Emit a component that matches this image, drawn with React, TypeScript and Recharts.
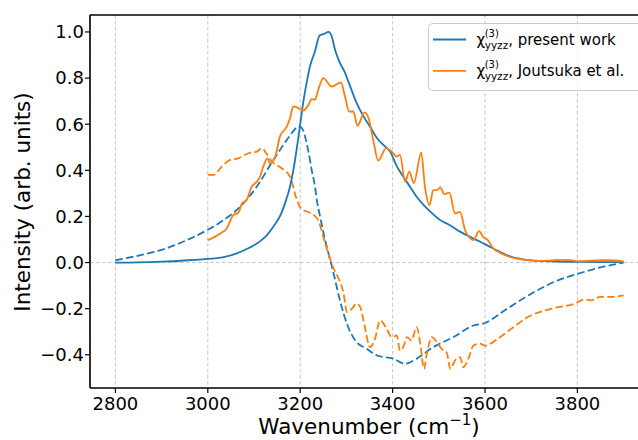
import React from 'react';
import { LineChart, Line, XAxis, YAxis, CartesianGrid, ReferenceLine, Legend } from 'recharts';

const xTicks = [2800, 3000, 3200, 3400, 3600, 3800];
const yTicks = [-0.4, -0.2, 0, 0.2, 0.4, 0.6, 0.8, 1.0];
const xDomain = [2745, 3955];
const yDomain = [-0.544, 1.0735];

const BLUE = '#1f77b4';
const ORANGE = '#ff7f0e';
const FONT = 'DejaVu Sans, sans-serif';

// present work, solid (imaginary part)
const presentSolid: [number, number][] = [
  [2800, 0.0], [2850, 0.001], [2900, 0.004], [2950, 0.009], [3000, 0.016], [3034, 0.024],
  [3060, 0.038], [3092, 0.066], [3115, 0.095], [3128, 0.119], [3145, 0.165], [3156, 0.2],
  [3168, 0.262], [3178, 0.33], [3186, 0.41], [3193, 0.5], [3200, 0.6], [3207, 0.7],
  [3214, 0.78], [3221, 0.85], [3232, 0.916], [3242, 0.985], [3252, 0.992], [3261, 1.0],
  [3268, 0.982], [3276, 0.918], [3286, 0.866], [3297, 0.823], [3308, 0.765], [3322, 0.692],
  [3337, 0.634], [3351, 0.59], [3366, 0.54], [3380, 0.51], [3395, 0.48], [3409, 0.418],
  [3423, 0.373], [3438, 0.328], [3452, 0.285], [3467, 0.25], [3481, 0.222], [3503, 0.184],
  [3524, 0.162], [3546, 0.134], [3568, 0.111], [3590, 0.09], [3611, 0.068], [3633, 0.046],
  [3654, 0.027], [3683, 0.014], [3719, 0.007], [3760, 0.004], [3800, 0.003], [3850, 0.002],
  [3900, 0.002],
];

// present work, dashed (real part)
const presentDashed: [number, number][] = [
  [2800, 0.01], [2850, 0.03], [2900, 0.055], [2962, 0.104], [2998, 0.14], [3034, 0.184],
  [3070, 0.242], [3106, 0.329], [3142, 0.445], [3171, 0.532], [3185, 0.57], [3196, 0.59],
  [3203, 0.585], [3210, 0.55], [3218, 0.48], [3225, 0.4], [3232, 0.33], [3236, 0.271],
  [3243, 0.2], [3254, 0.097], [3265, 0.01], [3272, -0.045], [3286, -0.164], [3301, -0.265],
  [3312, -0.315], [3322, -0.345], [3344, -0.374], [3366, -0.403], [3402, -0.417], [3427, -0.439],
  [3452, -0.417], [3488, -0.367], [3532, -0.323], [3575, -0.273], [3600, -0.262], [3643, -0.207],
  [3700, -0.135], [3758, -0.077], [3802, -0.048], [3852, -0.02], [3900, 0.0],
];

// Joutsuka et al., solid
const joutSolid: [number, number][] = [
  [3000, 0.097], [3027, 0.126], [3041, 0.148], [3055, 0.206], [3066, 0.216], [3074, 0.256],
  [3084, 0.271], [3095, 0.329], [3106, 0.35], [3113, 0.372], [3120, 0.416], [3129, 0.452],
  [3135, 0.43], [3146, 0.459], [3156, 0.546], [3171, 0.59], [3178, 0.626], [3185, 0.677],
  [3196, 0.67], [3207, 0.659], [3218, 0.684], [3225, 0.709], [3232, 0.706], [3239, 0.749],
  [3250, 0.8], [3268, 0.763], [3288, 0.781], [3297, 0.72], [3306, 0.655], [3315, 0.655],
  [3324, 0.593], [3339, 0.651], [3348, 0.626], [3358, 0.532], [3369, 0.442], [3386, 0.496],
  [3398, 0.481], [3409, 0.459], [3416, 0.467], [3427, 0.351], [3436, 0.394], [3446, 0.345],
  [3462, 0.477], [3470, 0.329], [3480, 0.249], [3488, 0.314], [3496, 0.314], [3503, 0.326],
  [3512, 0.297], [3523, 0.303], [3535, 0.213], [3546, 0.22], [3557, 0.14], [3575, 0.097],
  [3587, 0.136], [3597, 0.109], [3605, 0.1], [3618, 0.061], [3633, 0.042], [3654, 0.024],
  [3683, 0.013], [3719, 0.007], [3750, 0.01], [3775, 0.012], [3800, 0.006], [3830, 0.008],
  [3860, 0.01], [3880, 0.009], [3900, 0.005],
];

// Joutsuka et al., dashed
const joutDashed: [number, number][] = [
  [3000, 0.38], [3012, 0.38], [3030, 0.416], [3048, 0.445], [3066, 0.452], [3088, 0.474],
  [3106, 0.481], [3117, 0.496], [3124, 0.481], [3139, 0.437], [3160, 0.409], [3178, 0.372],
  [3193, 0.271], [3203, 0.232], [3221, 0.216], [3239, 0.184], [3250, 0.111], [3261, 0.039],
  [3270, -0.015], [3283, -0.07], [3294, -0.135], [3301, -0.215], [3312, -0.2], [3322, -0.178],
  [3330, -0.193], [3340, -0.28], [3351, -0.367], [3362, -0.33], [3373, -0.251], [3387, -0.287],
  [3398, -0.323], [3409, -0.316], [3416, -0.381], [3423, -0.367], [3431, -0.323], [3441, -0.338],
  [3452, -0.28], [3460, -0.352], [3468, -0.461], [3474, -0.396], [3485, -0.323], [3496, -0.345],
  [3506, -0.374], [3517, -0.389], [3525, -0.461], [3535, -0.425], [3546, -0.41], [3553, -0.454],
  [3564, -0.417], [3575, -0.36], [3589, -0.352], [3600, -0.36], [3628, -0.33], [3657, -0.287],
  [3693, -0.236], [3744, -0.2], [3794, -0.178], [3815, -0.16], [3830, -0.164], [3849, -0.149],
  [3873, -0.149], [3900, -0.142],
];

const legendNames = ['present work', 'Joutsuka et al.'];
const legendColors = [BLUE, ORANGE];

const toPts = (a: [number, number][]) => a.map(([w, v]) => ({ w, v }));

const fmtY = (v: number) => v.toFixed(1).replace('-', '\u2212');

const LegendBox = () => (
  <svg width={240} height={68} style={{ display: 'block' }}>
    <rect x={0.5} y={0.5} width={239} height={67} rx={4} ry={4}
      fill="rgba(255,255,255,0.8)" stroke="#cccccc" strokeWidth={1} />
    {legendNames.map((name, i) => {
      const cy = 16.5 + i * 31.4;
      const base = cy + 5;
      return (
        <g key={name}>
          <line x1={5} x2={38} y1={cy} y2={cy} stroke={legendColors[i]} strokeWidth={1.8} />
          <text x={48.5} y={base} fontSize={15} fontFamily={FONT} fill="#000">
            χ
            <tspan x={56.7} dy={-7.5} fontSize={10}>(3)</tspan>
            <tspan x={56.7} dy={11.8} fontSize={10.5}>yyzz</tspan>
            <tspan dy={-4.3}>, {name}</tspan>
          </text>
        </g>
      );
    })}
  </svg>
);

const XLabel = () => (
  <text x={369} y={434} textAnchor="middle" fontSize={21.5} fontFamily={FONT} fill="#000">
    Wavenumber (cm<tspan dy={-9} fontSize={15}>−1</tspan><tspan dy={9}>)</tspan>
  </text>
);

const YLabel = () => (
  <text transform="translate(30,202) rotate(-90)" textAnchor="middle" fontSize={21.5}
    fontFamily={FONT} fill="#000">
    Intensity (arb. units)
  </text>
);

const DASH = '7.5 3.3';

export default function App() {
  return (
    <div style={{ position: 'absolute', left: 0, top: 0, width: 638, height: 440, overflow: 'hidden', background: '#fff' }}>
      <LineChart width={660} height={440} margin={{ top: 15, right: 11, bottom: 0, left: 0 }}>
        <CartesianGrid horizontal={false} stroke="#c4c4c4" strokeDasharray="3.5 2.5" strokeWidth={1} />
        <ReferenceLine y={0} stroke="#c4c4c4" strokeDasharray="3.5 2.5" strokeWidth={1} />
        <XAxis
          dataKey="w" type="number" domain={xDomain} ticks={xTicks} allowDataOverflow
          height={52} tickSize={5} tickMargin={4}
          axisLine={{ stroke: '#000', strokeWidth: 1.6 }}
          tickLine={{ stroke: '#000', strokeWidth: 1.2 }}
          tick={{ fill: '#000', fontSize: 18, fontFamily: FONT }}
          label={<XLabel />}
        />
        <YAxis
          type="number" domain={yDomain} ticks={yTicks} allowDataOverflow width={90}
          tickSize={5} tickMargin={1} tickFormatter={fmtY}
          axisLine={{ stroke: '#000', strokeWidth: 1.6 }}
          tickLine={{ stroke: '#000', strokeWidth: 1.2 }}
          tick={{ fill: '#000', fontSize: 18, fontFamily: FONT }}
          label={<YLabel />}
        />
        <ReferenceLine y={yDomain[1]} stroke="#000" strokeWidth={1.6} ifOverflow="visible" />
        <Line data={toPts(presentDashed)} dataKey="v" type="monotone" stroke={BLUE} strokeWidth={1.8}
          strokeDasharray={DASH} dot={false} isAnimationActive={false} legendType="none" name="pd" />
        <Line data={toPts(joutDashed)} dataKey="v" type="monotone" stroke={ORANGE} strokeWidth={1.8}
          strokeDasharray={DASH} dot={false} isAnimationActive={false} legendType="none" name="jd" />
        <Line data={toPts(presentSolid)} dataKey="v" type="monotone" stroke={BLUE} strokeWidth={1.8}
          dot={false} isAnimationActive={false} name={legendNames[0]} />
        <Line data={toPts(joutSolid)} dataKey="v" type="monotone" stroke={ORANGE} strokeWidth={1.8}
          dot={false} isAnimationActive={false} name={legendNames[1]} />
        <Legend layout="horizontal" verticalAlign="middle" align="center"
          wrapperStyle={{ left: 428, top: 23, width: 240, height: 68 }} content={<LegendBox />} />
      </LineChart>
    </div>
  );
}
